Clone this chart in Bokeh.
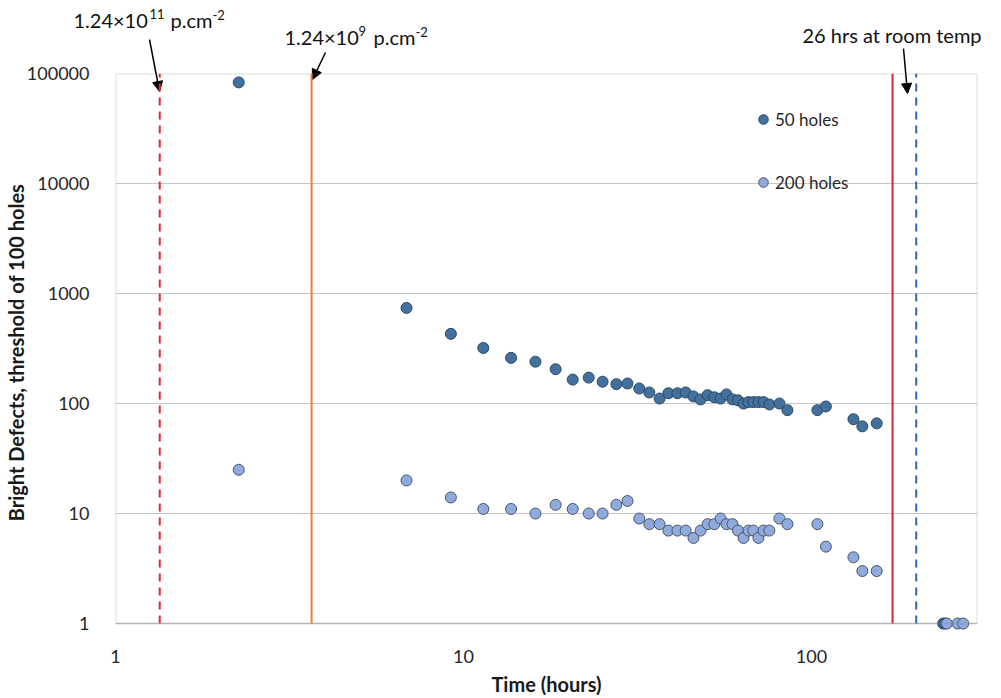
import math
from bokeh.plotting import figure
from bokeh.layouts import column
from bokeh.models import (Label, Arrow, NormalHead, Legend, LegendItem, BoxAnnotation,
                          FixedTicker, PrintfTickFormatter, Range1d, ColumnDataSource)
from bokeh.embed import file_html
from bokeh.resources import INLINE

# ---------------- data ----------------
time_hours = [2.26, 6.86, 9.2, 11.4, 13.7, 16.1, 18.4, 20.6, 22.9, 25.1,
              27.5, 29.6, 32.0, 34.2, 36.6, 38.8, 41.2, 43.5, 45.8, 48.0,
              50.3, 52.6, 54.8, 57.0, 59.3, 61.5, 63.8, 65.9, 68.1, 70.4,
              72.8, 75.7, 80.9, 85.3, 104, 110, 132, 140, 154]
holes_50 = [83000, 740, 430, 320, 260, 240, 205, 165, 172, 158,
            150, 152, 137, 126, 111, 124, 124, 126, 116, 109,
            119, 114, 111, 121, 109, 107, 100, 103, 103, 103,
            103, 98, 100, 87, 87, 94, 72, 62, 66]
holes_200 = [25, 20, 14, 11, 11, 10, 12, 11, 10, 10,
             12, 13, 9, 8, 8, 7, 7, 7, 6, 7,
             8, 8, 9, 8, 8, 7, 6, 7, 7, 6,
             7, 7, 9, 8, 8, 5, 4, 3, 3]
late_time_50 = [239, 242]
late_50 = [1, 1]
late_time_200 = [245, 263, 273]
late_200 = [1, 1, 1]

x_ticks = [1, 10, 100]
y_ticks = [1, 10, 100, 1000, 10000, 100000]

marker_times = [1.34, 3.66, 171, 200]          # 1.24e11 fluence, 1.24e9 fluence, anneal start, anneal end
marker_colors = ["#e0282e", "#f07f33", "#d4262b", "#3462b0"]
marker_dashes = ["8 6", "solid", "solid", "8 6"]

FONT = "Lato"

# ---------------- geometry (page pixels) ----------------
W, H = 1001, 698
FL, FR, FT, FB = 115, 977, 73, 625       # chart box
PAD_B = 8                                # frame continues a little below the box so markers on it are whole
STRIP_H = 95                             # annotation strip (drawn under the chart's transparent top)
MAIN_TOP = 55                            # where the chart canvas starts
X0, X1 = 1, 300
Y0, Y1 = 1, 100000
PX_PER_DEC_Y = (FB - FT) / (math.log10(Y1) - math.log10(Y0))
Y_LOW = 10 ** (math.log10(Y0) - PAD_B / PX_PER_DEC_Y)

# ---------------- annotation strip ----------------
top = figure(width=W, height=STRIP_H, x_range=Range1d(0, W), y_range=Range1d(STRIP_H, 0),
             output_backend="svg", toolbar_location=None,
             x_axis_location=None, y_axis_location=None,
             min_border_left=0, min_border_right=0, min_border_top=0, min_border_bottom=0)
top.frame_align = False
top.grid.grid_line_color = None
top.outline_line_color = None
top.background_fill_color = "white"
top.border_fill_color = "white"


def lab(text, px, py, size):
    top.add_layout(Label(x=px, y=py, text=text, text_font=FONT,
                         text_font_size=size, text_color="#111111",
                         text_align="left", text_baseline="alphabetic"))


lab("1.24×10", 73, 19, "20px")
lab("11", 149, 13, "13px")
lab("p.cm", 170, 19, "20px")
lab("-2", 212, 14, "13px")
lab("1.24×10", 284, 36, "20px")
lab("9", 358, 30, "13px")
lab("p.cm", 373, 36, "20px")
lab("-2", 415, 31, "13px")
lab("26 hrs at room temp", 802, 34, "20px")

for (sx0, sy0, sx1, sy1) in [(149, 39, 159, 91), (325, 52, 312, 79), (903, 48, 907, 93)]:
    top.add_layout(Arrow(x_start=sx0, y_start=sy0, x_end=sx1, y_end=sy1,
                         line_color="black", line_width=1.5,
                         end=NormalHead(size=10, fill_color="black", line_color="black")))

# ---------------- main chart ----------------
p = figure(width=W, height=H - MAIN_TOP, x_axis_type="log", y_axis_type="log",
           x_range=Range1d(X0, X1), y_range=Range1d(Y_LOW, Y1),
           output_backend="svg", toolbar_location=None,
           min_border_left=FL, min_border_right=W - FR,
           min_border_top=FT - MAIN_TOP, min_border_bottom=H - FB - PAD_B)
p.frame_align = False
p.styles = {"margin-top": f"-{STRIP_H - MAIN_TOP}px"}
p.background_fill_alpha = 0
p.border_fill_alpha = 0
p.outline_line_color = None

p.xgrid.grid_line_color = None
p.ygrid.grid_line_color = "#c6c6c6"
p.ygrid.grid_line_width = 1
p.ygrid.ticker = FixedTicker(ticks=y_ticks, minor_ticks=[])

p.add_layout(BoxAnnotation(left=X0, right=X1, bottom=Y0, top=Y1, fill_alpha=0,
                           line_color="#8c8c8c", line_width=2))

p.xaxis.ticker = FixedTicker(ticks=x_ticks, minor_ticks=[])
p.yaxis.ticker = FixedTicker(ticks=y_ticks, minor_ticks=[])
p.xaxis.formatter = PrintfTickFormatter(format="%d")
p.yaxis.formatter = PrintfTickFormatter(format="%d")
for ax in (p.xaxis, p.yaxis):
    ax.axis_line_color = None
    ax.major_tick_line_color = None
    ax.minor_tick_line_color = None
    ax.major_label_text_font = FONT
    ax.major_label_text_font_size = "18px"
    ax.major_label_text_color = "#262626"
    ax.axis_label_text_font = FONT
    ax.axis_label_text_font_size = "20px"
    ax.axis_label_text_font_style = "bold"
    ax.axis_label_text_color = "#1a1a1a"
p.xaxis.axis_label = "Time (hours)"
p.yaxis.axis_label = "Bright Defects, threshold of 100 holes"
p.xaxis.major_label_standoff = 20 - PAD_B
p.xaxis.axis_label_standoff = 6
p.yaxis.major_label_standoff = 20
p.yaxis.axis_label_standoff = -4

for t, c, d in zip(marker_times, marker_colors, marker_dashes):
    p.segment(x0=[t], y0=[Y0], x1=[t], y1=[Y1], line_color=c, line_width=2, line_dash=d)

src50 = ColumnDataSource(dict(t=time_hours + late_time_50, v=holes_50 + late_50))
src200 = ColumnDataSource(dict(t=time_hours + late_time_200, v=holes_200 + late_200))
r50 = p.scatter("t", "v", source=src50, size=11, marker="circle",
                fill_color="#41719C", line_color="#2e4766", line_width=1)
r200 = p.scatter("t", "v", source=src200, size=11, marker="circle",
                 fill_color="#8FAADC", line_color="#4a5568", line_width=1)

legend = Legend(items=[LegendItem(label="50 holes", renderers=[r50]),
                       LegendItem(label="200 holes", renderers=[r200])],
                location=(636, 429 + PAD_B - 1), orientation="vertical",
                glyph_width=24, glyph_height=26, label_height=26,
                label_standoff=0, spacing=37, padding=0, margin=0,
                background_fill_alpha=0, border_line_color=None,
                label_text_font=FONT, label_text_font_size="17px",
                label_text_color="#262626")
p.add_layout(legend)

layout = column(top, p, spacing=0)
open("out.html", "w").write(file_html(layout, INLINE))
